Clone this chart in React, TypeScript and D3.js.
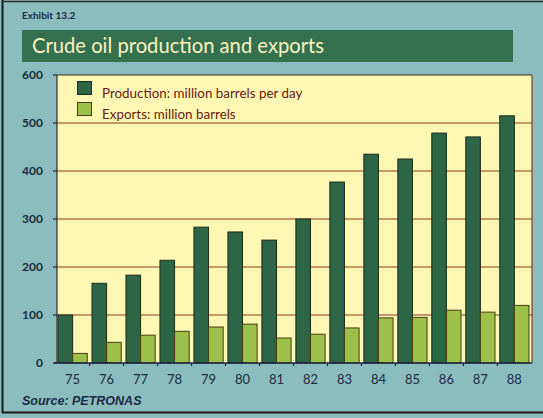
import React from "react";
import * as d3 from "d3";

const years = ["75","76","77","78","79","80","81","82","83","84","85","86","87","88"];
const production = [100,166,183,214,283,273,256,300,377,435,425,479,471,515];
const exportsVals = [20,43,58,66,75,81,52,60,73,94,95,110,106,120];
const yTicks = [0,100,200,300,400,500,600];
const seriesNames = ["Production: million barrels per day","Exports: million barrels"];
const title = "Crude oil production and exports";
const exhibit = "Exhibit 13.2";
const source = "Source: PETRONAS";

const W = 543, H = 418;
const plot = { left: 57, right: 532, top: 75, bottom: 363 };
const colors = { prod: "#2d6646", exp: "#9cc04a", bg: "#8bbdbf", plot: "#fff8b4", bar: "#35704f", grid: "#8a3a1e", text: "#1c2a44", legendText: "#6a1a12", titleText: "#fbf3c0" };

export default function App() {
  const y = d3.scaleLinear().domain([0, 600]).range([plot.bottom, plot.top]);
  const x = d3.scaleBand<string>().domain(years).range([57, 530]).paddingInner(0.14).paddingOuter(0.03);
  const sub = d3.scaleBand<string>().domain(["p","e"]).range([0, x.bandwidth()]);
  const step = x.step();
  return (
    <svg width={W} height={H} style={{ position: "absolute", left: 0, top: 0, display: "block" }}>
      <rect x={0} y={0} width={W} height={H} fill={colors.bg} />
      <line x1={2.5} x2={2.5} y1={0} y2={413} stroke="#1a1a1a" strokeWidth={2} />
      <line x1={2} x2={W} y1={412.5} y2={412.5} stroke="#1a1a1a" strokeWidth={2} />
      <line x1={2} x2={W} y1={1.5} y2={1.5} stroke="#2a2a2a" strokeWidth={1.5} />
      <text x={22} y={19} fontFamily="Lato, 'Open Sans', sans-serif" fontWeight={700} fontSize={10} fill={colors.text}>{exhibit}</text>
      <rect x={22} y={30} width={491} height={32} fill={colors.bar} />
      <text x={32} y={53} fontFamily="Lato, 'Open Sans', sans-serif" fontSize={20.2} fill={colors.titleText}>{title}</text>
      <rect x={plot.left} y={plot.top} width={plot.right - plot.left} height={plot.bottom - plot.top} fill={colors.plot} />
      {yTicks.filter(t => t > 0).map(t => (
        <line key={t} x1={plot.left} x2={plot.right} y1={y(t)} y2={y(t)} stroke={t === 600 ? "#3a2a2a" : colors.grid} strokeWidth={1} />
      ))}
      <line x1={plot.right} x2={plot.right} y1={plot.top} y2={plot.bottom} stroke={colors.grid} strokeWidth={1.2} />
      {years.map((yr, i) => (
        <g key={yr}>
          <rect x={(x(yr) as number) + (sub("p") as number)} y={y(production[i])} width={sub.bandwidth()} height={y(0) - y(production[i])} fill={colors.prod} stroke="#1b2a1a" strokeWidth={1} />
          <rect x={(x(yr) as number) + (sub("e") as number)} y={y(exportsVals[i])} width={sub.bandwidth()} height={y(0) - y(exportsVals[i])} fill={colors.exp} stroke="#4a3a12" strokeWidth={1} />
          <text x={(x(yr) as number) + x.bandwidth() / 2} y={384} textAnchor="middle" fontFamily="Lato, 'Open Sans', sans-serif" fontSize={13} fill={colors.text}>{yr}</text>
        </g>
      ))}
      <line x1={plot.left} x2={plot.left} y1={plot.top} y2={plot.bottom} stroke="#3a2a2a" strokeWidth={1.2} />
      <line x1={plot.left - 3} x2={plot.right} y1={plot.bottom} y2={plot.bottom} stroke="#1a2440" strokeWidth={1.5} />
      {years.slice(1).map((yr) => (
        <line key={"t" + yr} x1={(x(yr) as number) - step * 0.07} x2={(x(yr) as number) - step * 0.07} y1={plot.bottom} y2={plot.bottom + 3} stroke="#1a2440" strokeWidth={1.2} />
      ))}
      {yTicks.map(t => (
        <g key={"y" + t}>
          <line x1={plot.left - 4} x2={plot.left} y1={y(t)} y2={y(t)} stroke="#1a2440" strokeWidth={1.2} />
          <text x={43} y={y(t) + 4} textAnchor="end" fontFamily="Lato, 'Open Sans', sans-serif" fontWeight={700} fontSize={12} fill={colors.text}>{t}</text>
        </g>
      ))}
      <rect x={77.5} y={81.5} width={14} height={13} fill={colors.prod} stroke="#1b2a1a" />
      <rect x={77.5} y={102.5} width={14} height={13} fill={colors.exp} stroke="#4a3a12" />
      <text x={102} y={98} fontFamily="Lato, 'Open Sans', sans-serif" fontSize={13.4} fill={colors.legendText}>{seriesNames[0]}</text>
      <text x={102} y={119} fontFamily="Lato, 'Open Sans', sans-serif" fontSize={13.4} fill={colors.legendText}>{seriesNames[1]}</text>
      <text x={22} y={405} fontFamily="'Liberation Sans', Arial, sans-serif" fontStyle="italic" fontWeight={700} fontSize={12.5} fill={colors.text}>{source}</text>
    </svg>
  );
}
